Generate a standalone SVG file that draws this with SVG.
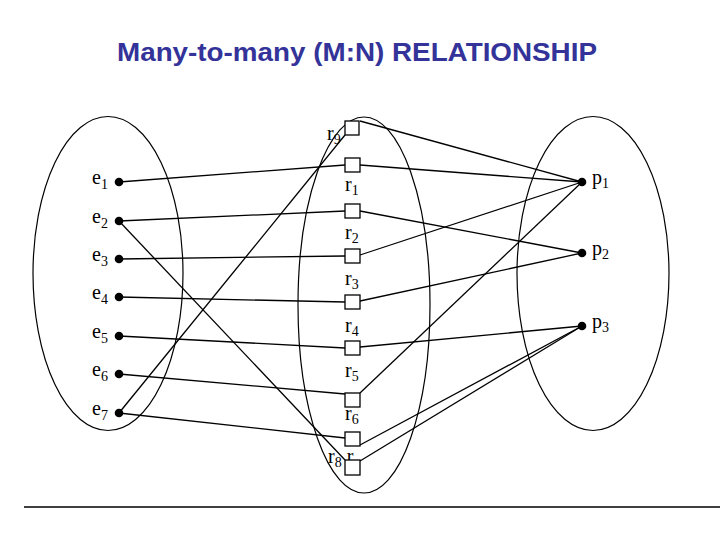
<svg xmlns="http://www.w3.org/2000/svg" width="720" height="540" viewBox="0 0 720 540">
<style>
.t{font-family:"Liberation Sans",Arial,sans-serif;font-weight:bold;fill:#333399}
.lb{font-family:"Liberation Serif","Times New Roman",serif;font-size:20px;fill:#000}
.sub{font-size:14px}
.el{fill:none;stroke:#000;stroke-width:1.2}
.bx{fill:#fff;stroke:#000;stroke-width:1.3}
.dot{fill:#000}
.ln{stroke:#000;stroke-width:1.3;fill:none}
</style>
<rect width="720" height="540" fill="#fff"/>
<text class="t" x="357" y="61" font-size="25" text-anchor="middle" textLength="480" lengthAdjust="spacingAndGlyphs">Many-to-many (M:N) RELATIONSHIP</text>
<g id="sets">
<ellipse class="el" cx="108" cy="273.5" rx="75" ry="157"/>
<ellipse class="el" cx="364" cy="305" rx="66" ry="188"/>
<ellipse class="el" cx="593" cy="273.5" rx="76" ry="157"/>
</g>
<g id="connectors">
<line class="ln" x1="119" y1="182" x2="345" y2="165"/>
<line class="ln" x1="119" y1="221" x2="345" y2="211"/>
<line class="ln" x1="119" y1="221" x2="345" y2="460"/>
<line class="ln" x1="119" y1="259" x2="345" y2="256"/>
<line class="ln" x1="119" y1="297" x2="345" y2="302"/>
<line class="ln" x1="119" y1="336" x2="345" y2="348"/>
<line class="ln" x1="119" y1="374" x2="345" y2="394"/>
<line class="ln" x1="119" y1="413" x2="345" y2="438"/>
<line class="ln" x1="119" y1="413" x2="345" y2="135"/>
<line class="ln" x1="360" y1="121" x2="582" y2="182"/>
<line class="ln" x1="360" y1="165" x2="582" y2="182"/>
<line class="ln" x1="360" y1="211" x2="582" y2="253"/>
<line class="ln" x1="360" y1="255" x2="582" y2="182"/>
<line class="ln" x1="360" y1="301" x2="582" y2="253"/>
<line class="ln" x1="360" y1="347" x2="582" y2="326"/>
<line class="ln" x1="360" y1="393" x2="582" y2="182"/>
<line class="ln" x1="360" y1="445" x2="582" y2="326"/>
<line class="ln" x1="360" y1="461" x2="582" y2="326"/>
</g>
<g id="e1"><circle class="dot" cx="119" cy="182" r="4.3"/><text class="lb" x="92" y="184">e<tspan class="sub" dy="5">1</tspan></text></g>
<g id="e2"><circle class="dot" cx="119" cy="221" r="4.3"/><text class="lb" x="92" y="223">e<tspan class="sub" dy="5">2</tspan></text></g>
<g id="e3"><circle class="dot" cx="119" cy="259" r="4.3"/><text class="lb" x="92" y="261">e<tspan class="sub" dy="5">3</tspan></text></g>
<g id="e4"><circle class="dot" cx="119" cy="297" r="4.3"/><text class="lb" x="92" y="299">e<tspan class="sub" dy="5">4</tspan></text></g>
<g id="e5"><circle class="dot" cx="119" cy="336" r="4.3"/><text class="lb" x="92" y="338">e<tspan class="sub" dy="5">5</tspan></text></g>
<g id="e6"><circle class="dot" cx="119" cy="374" r="4.3"/><text class="lb" x="92" y="376">e<tspan class="sub" dy="5">6</tspan></text></g>
<g id="e7"><circle class="dot" cx="119" cy="413" r="4.3"/><text class="lb" x="92" y="415">e<tspan class="sub" dy="5">7</tspan></text></g>
<g id="p1"><circle class="dot" cx="582" cy="182" r="4.3"/><text class="lb" x="592" y="184">p<tspan class="sub" dy="4">1</tspan></text></g>
<g id="p2"><circle class="dot" cx="582" cy="253" r="4.3"/><text class="lb" x="592" y="255">p<tspan class="sub" dy="4">2</tspan></text></g>
<g id="p3"><circle class="dot" cx="582" cy="326" r="4.3"/><text class="lb" x="592" y="328">p<tspan class="sub" dy="4">3</tspan></text></g>
<g id="labels">
<text class="lb" x="327" y="140">r<tspan class="sub" dy="4">9</tspan></text>
<text class="lb" x="345" y="191">r<tspan class="sub" dy="4">1</tspan></text>
<text class="lb" x="345" y="239">r<tspan class="sub" dy="4">2</tspan></text>
<text class="lb" x="345" y="285">r<tspan class="sub" dy="4">3</tspan></text>
<text class="lb" x="345" y="332">r<tspan class="sub" dy="4">4</tspan></text>
<text class="lb" x="345" y="377">r<tspan class="sub" dy="4">5</tspan></text>
<text class="lb" x="345" y="420">r<tspan class="sub" dy="4">6</tspan></text>
<text class="lb" x="328" y="463">r<tspan class="sub" dy="4">8</tspan><tspan dy="-4"> r</tspan></text>
</g>
<g id="r9"><rect class="bx" x="345" y="121" width="14" height="14"/></g>
<g id="r1"><rect class="bx" x="345" y="158" width="15" height="14"/></g>
<g id="r2"><rect class="bx" x="345" y="204" width="15" height="14"/></g>
<g id="r3"><rect class="bx" x="345" y="249" width="15" height="14"/></g>
<g id="r4"><rect class="bx" x="345" y="295" width="15" height="14"/></g>
<g id="r5"><rect class="bx" x="345" y="341" width="15" height="14"/></g>
<g id="r6"><rect class="bx" x="345" y="393" width="15" height="14"/></g>
<g id="r7"><rect class="bx" x="345" y="432" width="15" height="14"/></g>
<g id="r8"><rect class="bx" x="345" y="460" width="15" height="15"/></g>
<line x1="24" y1="507" x2="720" y2="507" stroke="#000" stroke-width="1.5"/>
</svg>
